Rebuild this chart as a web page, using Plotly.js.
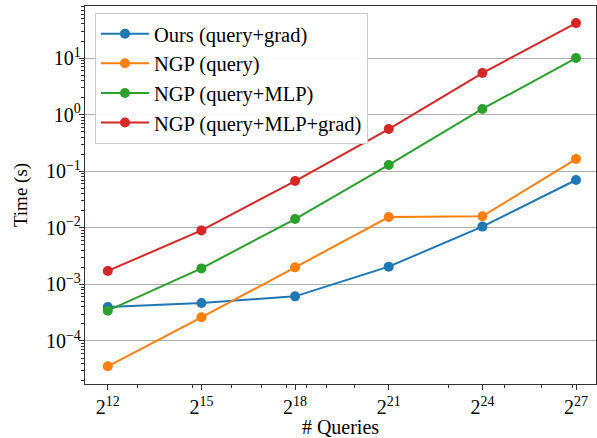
<!DOCTYPE html>
<html><head><meta charset="utf-8">
<script src="https://cdn.plot.ly/plotly-3.0.1.min.js"></script>
<style>body{margin:0;padding:0;background:#fff}#chart{width:597px;height:438px}</style>
</head><body><div id="chart"></div>
<script>
const exponents = [12, 15, 18, 21, 24, 27];
const queries = exponents.map(e => Math.pow(2, e));
const tickLabels = exponents.map(e => "2<sup>" + e + "</sup>");
const seriesNames = ["Ours (query+grad)", "NGP (query)", "NGP (query+MLP)", "NGP (query+MLP+grad)"];
const oursQueryGrad = [4.0e-4, 4.7e-4, 6.15e-4, 2.06e-3, 0.0105, 0.070];
const ngpQuery = [3.57e-5, 2.62e-4, 2.0e-3, 0.0155, 0.016, 0.164];
const ngpQueryMlp = [3.43e-4, 1.92e-3, 0.0143, 0.129, 1.26, 10.0];
const ngpQueryMlpGrad = [1.73e-3, 9.0e-3, 0.067, 0.557, 5.43, 41.5];
const colors = ["#1f77b4", "#ff7f0e", "#2ca02c", "#d62728"];
const yTickVals = [1e-4, 1e-3, 1e-2, 1e-1, 1, 10];
const yTickText = ["10<sup>−4</sup>", "10<sup>−3</sup>", "10<sup>−2</sup>", "10<sup>−1</sup>", "10<sup>0</sup>", "10<sup>1</sup>"];

const allSeries = [oursQueryGrad, ngpQuery, ngpQueryMlp, ngpQueryMlpGrad];
const traces = allSeries.map((ys, i) => ({
  x: queries, y: ys, name: seriesNames[i], type: "scatter", mode: "lines+markers",
  line: {color: colors[i], width: 2}, marker: {color: colors[i], size: 10}
}));

const yMinor = [];
for (let d = -5; d <= 1; d++) for (let k = 2; k <= 9; k++) yMinor.push(k * Math.pow(10, d));
const xMinorExp = [12.96, 14.72, 15.96, 16.92, 17.72, 18.36, 19.0, 19.9, 22.9, 24.7, 25.9, 26.9];
const xMinor = xMinorExp.map(e => Math.pow(2, e));

const font = "Liberation Serif, serif";
const layout = {
  width: 597, height: 438,
  margin: {l: 85, r: 1, t: 6, b: 54},
  paper_bgcolor: "#fff", plot_bgcolor: "#fff",
  font: {family: font, size: 20, color: "#000"},
  showlegend: true,
  legend: {x: 0.0195, y: 0.982, xanchor: "left", yanchor: "top", bgcolor: "rgba(255,255,255,0.9)",
    bordercolor: "#cccccc", borderwidth: 1, font: {family: font, size: 20.5}, tracegroupgap: 0,
    itemwidth: 48},
  xaxis: {
    type: "log", range: [Math.log10(Math.pow(2, 11.27)), Math.log10(Math.pow(2, 27.64))],
    tickmode: "array", tickvals: queries, ticktext: tickLabels,
    showgrid: false, zeroline: false, showline: true, linecolor: "#333", linewidth: 1.2, mirror: true,
    ticks: "outside", ticklen: 5, tickcolor: "#333",
    minor: {tickmode: "array", tickvals: xMinor, ticks: "outside", ticklen: 3, tickcolor: "#333", showgrid: false},
    tickfont: {size: 20},
    title: {text: "# Queries", font: {size: 20}, standoff: 0}
  },
  yaxis: {
    type: "log", range: [-4.76, 1.92],
    tickmode: "array", tickvals: yTickVals, ticktext: yTickText,
    showgrid: true, gridcolor: "#b0b0b0", gridwidth: 1, zeroline: false,
    showline: true, linecolor: "#333", linewidth: 1.2, mirror: true,
    ticks: "outside", ticklen: 5, tickcolor: "#333",
    minor: {tickmode: "array", tickvals: yMinor, ticks: "outside", ticklen: 3, tickcolor: "#333", showgrid: false},
    tickfont: {size: 20},
    ticklabelstandoff: -6,
    title: {text: "Time (s)", font: {size: 19}, standoff: 13}
  }
};
Plotly.newPlot("chart", traces, layout, {displayModeBar: false, staticPlot: true});
</script></body></html>
